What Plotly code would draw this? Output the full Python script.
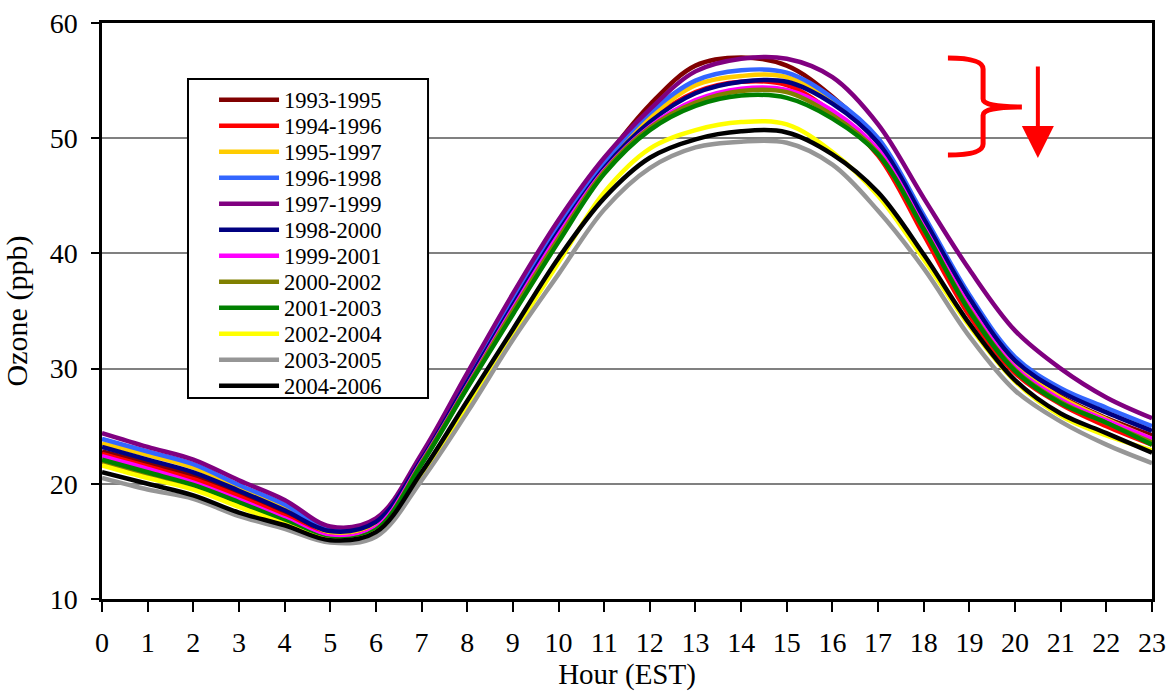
import plotly.graph_objects as go

hours = list(range(24))

series_names = ["1993-1995", "1994-1996", "1995-1997", "1996-1998", "1997-1999", "1998-2000",
                "1999-2001", "2000-2002", "2001-2003", "2002-2004", "2003-2005", "2004-2006"]

s_1993_1995 = [22.8, 21.8, 20.7, 19.1, 17.4, 15.6, 16.4, 22.2, 29.3, 36.2, 42.7, 48.1,
               52.9, 56.3, 57.0, 56.3, 53.6, 49.6, 42.5, 35.6, 30.5, 27.6, 25.7, 24.2]
s_1994_1996 = [22.6, 21.5, 20.4, 18.9, 17.2, 15.5, 16.3, 22.0, 28.6, 35.3, 41.9, 47.5,
               51.5, 54.0, 54.9, 54.6, 52.2, 48.5, 41.6, 34.6, 29.6, 26.9, 25.0, 23.4]
s_1995_1997 = [23.5, 22.5, 21.4, 19.7, 18.0, 15.8, 16.6, 22.2, 28.9, 35.6, 42.1, 47.6,
               51.8, 54.6, 55.4, 55.3, 53.1, 49.6, 42.9, 35.9, 30.3, 27.5, 25.6, 23.9]
s_1996_1998 = [23.9, 22.8, 21.7, 19.9, 18.2, 16.0, 16.8, 22.4, 29.1, 35.9, 42.4, 47.9,
               52.2, 55.0, 55.9, 55.7, 53.5, 50.0, 43.3, 36.4, 31.0, 28.3, 26.6, 25.0]
s_1997_1999 = [24.4, 23.2, 22.1, 20.3, 18.6, 16.3, 17.0, 22.6, 29.6, 36.5, 42.9, 48.3,
               52.5, 55.8, 56.9, 56.9, 55.3, 51.2, 44.8, 38.6, 33.3, 30.0, 27.5, 25.7]
s_1998_2000 = [23.2, 22.1, 21.0, 19.4, 17.7, 15.9, 16.7, 22.1, 28.8, 35.5, 41.9, 47.4,
               51.4, 53.9, 54.9, 54.9, 53.0, 49.6, 43.0, 36.1, 30.7, 28.0, 26.2, 24.6]
s_1999_2001 = [22.4, 21.3, 20.1, 18.6, 17.0, 15.4, 16.2, 21.9, 28.5, 35.2, 41.6, 47.2,
               51.0, 53.3, 54.3, 54.2, 52.4, 49.0, 42.3, 35.4, 30.1, 27.3, 25.5, 23.9]
s_2000_2002 = [21.9, 20.8, 19.7, 18.3, 16.7, 15.2, 16.0, 21.8, 28.4, 35.0, 41.3, 47.1,
               50.9, 53.1, 54.1, 54.0, 52.0, 48.7, 42.1, 35.1, 29.9, 27.1, 25.3, 23.6]
s_2001_2003 = [22.1, 21.0, 19.9, 18.4, 16.8, 15.2, 16.0, 21.7, 28.3, 34.7, 41.0, 46.9,
               50.7, 52.8, 53.7, 53.5, 51.7, 48.6, 42.1, 35.0, 29.8, 27.0, 25.3, 23.4]
s_2002_2004 = [21.6, 20.5, 19.5, 18.0, 16.5, 15.1, 15.8, 20.8, 26.8, 33.0, 39.2, 45.3,
               49.1, 50.7, 51.4, 51.2, 48.8, 45.0, 39.5, 33.7, 28.9, 25.9, 24.2, 22.9]
s_2003_2005 = [20.5, 19.5, 18.7, 17.2, 16.1, 14.9, 15.4, 20.3, 26.2, 32.5, 38.2, 43.8,
               47.4, 49.2, 49.7, 49.6, 47.7, 43.7, 38.7, 32.8, 28.1, 25.4, 23.4, 21.8]
s_2004_2006 = [21.0, 20.0, 19.0, 17.5, 16.4, 15.1, 15.8, 21.0, 27.2, 33.4, 39.6, 44.8,
               48.3, 49.9, 50.6, 50.5, 48.6, 45.3, 39.9, 33.9, 29.0, 26.1, 24.4, 22.7]

series_values = [s_1993_1995, s_1994_1996, s_1995_1997, s_1996_1998, s_1997_1999, s_1998_2000,
                 s_1999_2001, s_2000_2002, s_2001_2003, s_2002_2004, s_2003_2005, s_2004_2006]

colors = ["#800000", "#FF0000", "#FFCC00", "#3366FF", "#800080", "#000080",
          "#FF00FF", "#808000", "#008000", "#FFFF00", "#969696", "#000000"]

FONT = "Liberation Serif"

W, H = 1169, 692
PLOT_TOP_PX, PLOT_H_PX = 23, 576  # plot area in page pixels (for legend row placement)

fig = go.Figure()
legend_layouts = {}
for i, (name, vals, col) in enumerate(zip(series_names, series_values, colors)):
    key = "legend" if i == 0 else f"legend{i + 1}"
    fig.add_trace(go.Scatter(
        x=hours, y=vals, mode="lines", name=name, legend=key,
        line=dict(color=col, width=4.5, shape="spline", smoothing=1.0),
    ))
    row_center_px = 100 + 26 * i
    legend_layouts[key] = dict(
        x=0.1067, y=1 - (row_center_px - PLOT_TOP_PX) / PLOT_H_PX,
        xanchor="left", yanchor="middle",
        bgcolor="rgba(0,0,0,0)", borderwidth=0,
        font=dict(family=FONT, size=22.5, color="black"),
        itemwidth=60,
    )

# legend frame
fig.add_shape(type="rect", xref="paper", yref="paper", x0=0.0819, x1=0.3105, y0=0.349, y1=0.9028,
              fillcolor="white", line=dict(color="black", width=2), layer="above")

# red brace and arrow annotation
fig.add_shape(type="path", xref="x", yref="y",
              path="M 18.53,56.96 Q 19.30,56.96 19.30,56.0 L 19.30,53.4 Q 19.30,52.71 20.15,52.71 "
                   "Q 19.30,52.71 19.30,52.0 L 19.30,49.5 Q 19.30,48.54 18.53,48.54",
              line=dict(color="#FF0000", width=5))
fig.add_annotation(x=20.5, y=48.28, ax=20.5, ay=56.35, xref="x", yref="y", axref="x", ayref="y",
                   text="", showarrow=True, arrowhead=2, arrowsize=1.6, arrowwidth=4,
                   arrowcolor="#FF0000")

fig.update_layout(
    width=W, height=H,
    margin=dict(l=102, r=17, t=23, b=93, autoexpand=False),
    paper_bgcolor="white", plot_bgcolor="white",
    font=dict(family=FONT, size=26, color="black"),
    showlegend=True,
    xaxis=dict(range=[0, 23], tickmode="linear", tick0=0, dtick=1, automargin=False,
               ticks="outside", ticklen=10, tickwidth=2, tickcolor="black",
               showline=True, linewidth=2.5, linecolor="black", mirror=True,
               showgrid=False, zeroline=False, ticklabeloverflow="allow",
               ticklabelstandoff=7,
               tickfont=dict(family=FONT, size=28),
               title=dict(text="Hour (EST)", font=dict(family=FONT, size=29), standoff=4)),
    yaxis=dict(range=[10, 60], tickmode="linear", tick0=10, dtick=10, automargin=False,
               ticks="outside", ticklen=8, tickwidth=2, tickcolor="black",
               showline=True, linewidth=2.5, linecolor="black", mirror=True,
               showgrid=True, gridcolor="#808080", gridwidth=2, zeroline=False,
               ticklabeloverflow="allow", ticklabelstandoff=8,
               tickfont=dict(family=FONT, size=28),
               title=dict(text="Ozone (ppb)", font=dict(family=FONT, size=30), standoff=18)),
)
fig.update_layout(**legend_layouts)

# remove the default page margin so the figure fills the window exactly
fig.write_html("out.html", config={"displayModeBar": False},
               post_script="document.body.style.margin='0';")
